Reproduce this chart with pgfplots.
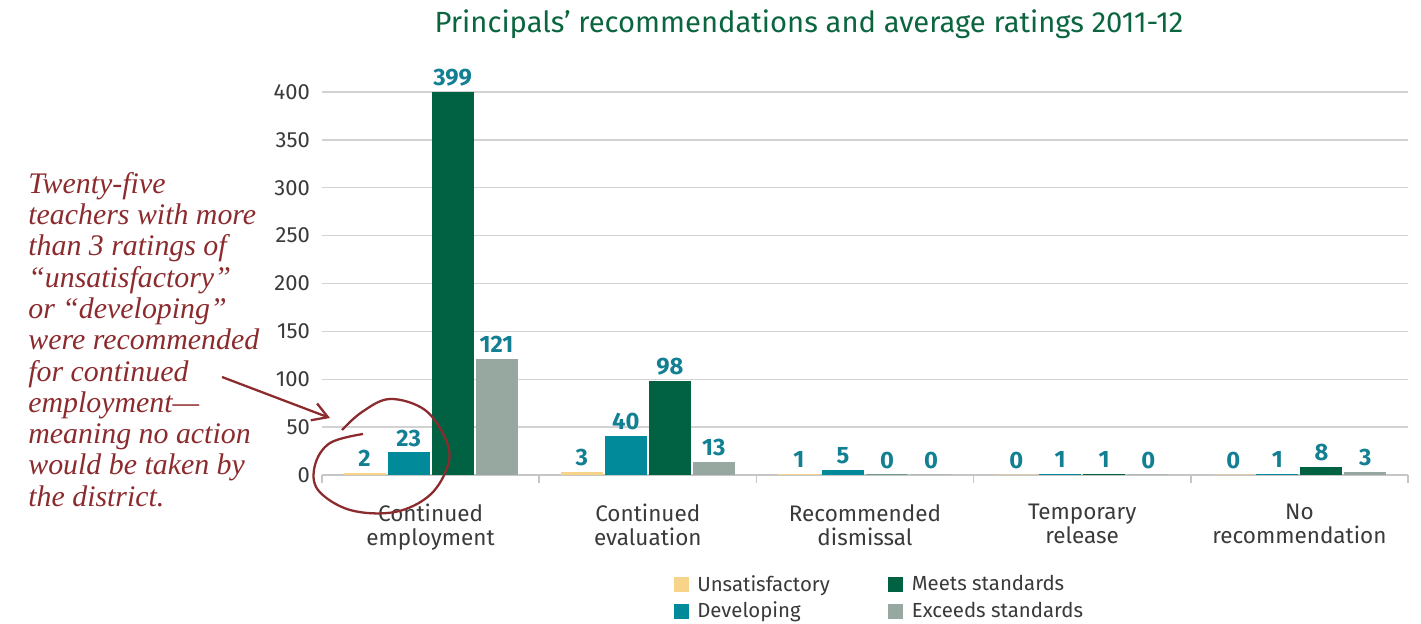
\documentclass[border=0pt]{standalone}
\usepackage{pgfplots}
\pgfplotsset{compat=1.18}
\usepackage{fontspec}
\setmainfont{Fira Sans}
\newfontfamily\handfont{Liberation Serif}
\usetikzlibrary{arrows.meta}

\definecolor{unsat}{HTML}{F8D38A}
\definecolor{dev}{HTML}{008A9A}
\definecolor{meets}{HTML}{006243}
\definecolor{exceeds}{HTML}{96A89F}
\definecolor{lbl}{HTML}{127F93}
\definecolor{ttl}{HTML}{0B6640}
\definecolor{annot}{HTML}{8C2B2E}
\definecolor{txt}{HTML}{3A3A3A}

\begin{document}
\begin{tikzpicture}
% canvas: 1 px of the reference = 0.02 cm, axis origin at px (322,475)
\useasboundingbox (-6.44,-2.98) rectangle (21.98,9.5);

\begin{axis}[
    at={(0,0)}, anchor=south west,
    scale only axis,
    width=21.72cm, height=7.66cm,
    ybar=0.06cm,
    bar width=0.82cm,
    xmin=-0.5, xmax=4.5,
    ymin=0, ymax=400,
    ytick={0,50,...,400},
    xtick={0,1,2,3,4},
    xticklabels={Continued\\employment, Continued\\evaluation, Recommended\\dismissal, Temporary\\release, No\\recommendation},
    minor xtick={-0.5,0.5,...,4.5},
    major tick length=0pt,
    minor tick length=0.16cm,
    tick align=outside,
    minor tick style={gray!45, line width=0.8pt},
    axis x line*=bottom,
    axis y line*=left,
    x axis line style={gray!45, line width=0.8pt, -},
    y axis line style={draw=none},
    ymajorgrids,
    grid style={gray!35, line width=0.8pt},
    /pgf/number format/assume math mode=true,
    yticklabel style={font=\fontsize{12.5}{14}\selectfont, text=txt, xshift=-0.12cm},
    xticklabel style={font=\fontsize{12.8}{13.8}\selectfont, text=txt, align=center, yshift=-0.46cm},
    clip=false,
    nodes near coords,
    nodes near coords style={font=\bfseries\fontsize{13.5}{15}\selectfont, text=lbl},
    legend cell align=left,
    transpose legend,
    legend columns=2,
    legend style={at={(0.514,-0.321)}, anchor=center, draw=none,
        font=\fontsize{11.6}{13}\selectfont, text=txt,
        row sep=0.02cm,
        /tikz/every even column/.append style={column sep=1.1cm},
        /tikz/every odd column/.append style={column sep=0.1cm}},
    legend image code/.code={\fill[#1] (0cm,-0.14cm) rectangle (0.28cm,0.14cm);},
]
\addplot[fill=unsat, draw=unsat, line width=0.02cm] coordinates {(0,2) (1,3) (2,1) (3,0) (4,0)};
\addplot[fill=dev, draw=dev, line width=0.02cm] coordinates {(0,23) (1,40) (2,5) (3,1) (4,1)};
\addplot[fill=meets, draw=meets, line width=0.02cm] coordinates {(0,399) (1,98) (2,0) (3,1) (4,8)};
\addplot[fill=exceeds, draw=exceeds, line width=0.02cm] coordinates {(0,121) (1,13) (2,0) (3,0) (4,3)};
\legend{Unsatisfactory, Developing, Meets standards, Exceeds standards}
\end{axis}

% title
\node[anchor=base, text=ttl, font=\fontsize{16.6}{19}\selectfont] at (9.74,8.84)
    {Principals’ recommendations and average ratings 2011-12};

% annotation
\node[anchor=north west, inner sep=0pt, align=left, text=annot,
      font=\handfont\itshape\fontsize{17}{17.8}\selectfont] at (-5.88,6.06)
    {Twenty-five\\teachers with more\\than 3 ratings of\\“unsatisfactory”\\or “developing”\\were recommended\\for continued\\employment—\\meaning no action\\would be taken by\\the district.};
\draw[annot, line width=1.3pt, -{Straight Barb[length=0.3cm, width=0.36cm]}] (-2.0,1.96) -- (0.16,1.14);
\draw[annot, line width=1.3pt] plot[smooth, tension=0.6] coordinates {
    (0.40,0.90) (0.80,1.26) (1.36,1.52) (2.06,1.30) (2.48,0.70) (2.52,0.20)
    (2.16,-0.40) (1.46,-0.74) (0.56,-0.70) (-0.08,-0.30) (-0.14,0.20)
    (0.16,0.64) (0.82,0.82)};
\end{tikzpicture}
\end{document}
